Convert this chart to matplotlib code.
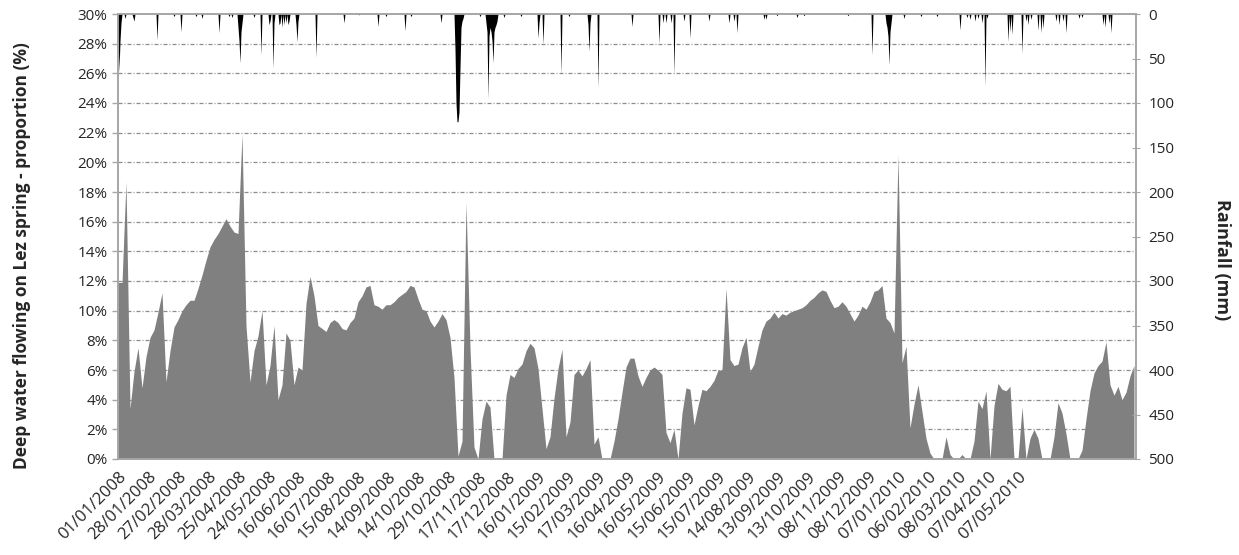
import numpy as np
import matplotlib
matplotlib.use("Agg")
import matplotlib.pyplot as plt

# category axis: one category per day in the workbook, a date label every 30 categories
date_labels = [
    "01/01/2008", "28/01/2008", "27/02/2008", "28/03/2008", "25/04/2008", "24/05/2008",
    "16/06/2008", "16/07/2008", "15/08/2008", "14/09/2008", "14/10/2008", "29/10/2008",
    "17/11/2008", "17/12/2008", "16/01/2009", "15/02/2009", "17/03/2009", "16/04/2009",
    "16/05/2009", "15/06/2009", "15/07/2009", "14/08/2009", "13/09/2009", "13/10/2009",
    "08/11/2009", "08/12/2009", "07/01/2010", "06/02/2010", "08/03/2010", "07/04/2010",
    "07/05/2010",
]
label_step = 30
n_categories = 1018
sample_step = 4  # the proportion is read every 4 categories

# deep water proportion (%), one reading every sample_step categories
deep_water_pct = [
    11.9, 11.9, 18.7, 3.4, 5.9, 7.5, 4.8, 6.9, 8.2, 8.7,
    9.9, 11.2, 5.2, 7.3, 8.9, 9.4, 10.0, 10.4, 10.7, 10.7,
    11.5, 12.4, 13.4, 14.3, 14.8, 15.2, 15.7, 16.2, 15.7, 15.3,
    15.2, 21.9, 9.0, 5.2, 7.3, 8.3, 10.0, 5.0, 6.3, 9.0,
    4.0, 5.0, 8.5, 8.0, 5.0, 6.2, 6.0, 10.5, 12.3, 11.0,
    9.0, 8.8, 8.6, 9.2, 9.4, 9.2, 8.8, 8.7, 9.2, 9.5,
    10.6, 11.0, 11.6, 11.7, 10.4, 10.3, 10.1, 10.4, 10.4, 10.6,
    10.9, 11.1, 11.3, 11.7, 11.6, 10.8, 10.1, 10.0, 9.3, 8.9,
    9.3, 9.8, 9.4, 8.2, 5.5, 0.2, 1.2, 17.3, 7.5, 0.8,
    0.0, 2.7, 3.9, 3.5, 0.0, 0.0, 0.0, 4.3, 5.7, 5.5,
    6.1, 6.4, 7.3, 7.8, 7.5, 6.1, 3.4, 0.7, 1.5, 4.1,
    6.1, 7.4, 1.5, 2.5, 5.7, 6.0, 5.6, 6.1, 6.7, 1.0,
    1.5, 0.0, 0.0, 0.0, 1.2, 2.7, 4.5, 6.2, 6.8, 6.8,
    5.6, 4.9, 5.5, 6.0, 6.2, 6.0, 5.7, 1.8, 1.1, 2.0,
    0.0, 3.1, 4.8, 4.7, 2.3, 3.6, 4.7, 4.6, 4.9, 5.3,
    6.0, 6.0, 11.5, 6.7, 6.3, 6.4, 7.5, 8.2, 5.9, 6.4,
    7.6, 8.7, 9.3, 9.5, 9.9, 9.5, 9.8, 9.7, 9.9, 10.0,
    10.1, 10.2, 10.4, 10.7, 10.9, 11.2, 11.4, 11.3, 10.7, 10.2,
    10.3, 10.6, 10.3, 9.8, 9.3, 9.7, 10.3, 10.1, 10.6, 11.3,
    11.4, 11.7, 9.5, 9.2, 8.5, 20.5, 6.5, 7.6, 2.1, 3.7,
    5.0, 3.2, 1.4, 0.4, 0.0, 0.0, 0.0, 1.5, 0.3, 0.0,
    0.0, 0.3, 0.0, 0.0, 1.2, 3.9, 3.4, 4.6, 0.0, 3.6,
    5.1, 4.7, 4.6, 4.9, 0.0, 0.0, 3.5, 0.0, 1.4, 2.0,
    1.4, 0.0, 0.0, 0.0, 1.5, 3.8, 3.1, 1.7, 0.0, 0.0,
    0.0, 0.6, 2.7, 4.6, 5.8, 6.3, 6.6, 7.9, 5.0, 4.3,
    4.9, 4.0, 4.5, 5.6, 6.3,
]

# daily rainfall (mm) on the rainy categories, zero elsewhere
rain_day = [
    0, 1, 2, 3, 7, 15, 16, 39, 56, 63, 78, 84, 101, 111, 114,
    120, 121, 122, 123, 124, 136, 143, 151, 152, 155, 156, 161, 162, 164, 166,
    168, 170, 171, 178, 179, 180, 198, 226, 241, 260, 268, 287, 293, 323,
    337, 338, 339, 340, 341, 342, 343, 344, 345, 362,
    368, 369, 370, 371, 372, 373, 374, 375, 376, 377, 378, 379,
    386, 403, 420, 421, 425, 443, 451, 470, 471, 472, 480,
    514, 541, 545, 548, 553, 556, 566, 572, 591, 611, 616, 619, 646, 648, 659,
    679, 686, 730, 754, 768, 769, 770, 771, 772, 773, 786, 803, 819, 842,
    849, 852, 857, 860, 864, 867, 869, 890, 892, 894, 904, 908, 910, 913, 920, 923, 925,
    938, 941, 945, 948, 961, 964, 985, 987, 991, 993,
]
rain_mm = [
    20, 65, 30, 10, 5, 4, 8, 29, 3, 20, 3, 5, 21, 3, 4,
    15, 30, 55, 20, 10, 4, 46, 12, 8, 61, 10, 12, 10, 15, 12,
    10, 12, 8, 12, 31, 8, 49, 10, 1, 14, 3, 19, 3, 10,
    40, 100, 121, 121, 110, 60, 15, 8, 5, 3,
    10, 20, 95, 25, 15, 20, 30, 55, 20, 15, 12, 8,
    4, 3, 27, 10, 34, 68, 3, 12, 42, 10, 83,
    14, 33, 10, 10, 10, 68, 8, 27, 8, 10, 8, 21, 6, 6, 2,
    4, 2, 2, 46, 10, 15, 25, 57, 20, 10, 5, 3, 3, 18,
    4, 6, 8, 5, 10, 81, 5, 31, 20, 23, 44, 8, 12, 6, 18, 21, 16,
    8, 12, 8, 21, 5, 4, 12, 15, 10, 21,
]


def main() -> None:
    plt.rcParams["font.family"] = ["Open Sans", "DejaVu Sans"]
    axis_grey = "#a6a6a6"
    text_color = "#262626"

    x_deep = np.arange(len(deep_water_pct)) * sample_step
    rain = np.zeros(n_categories)
    rain[rain_day] = rain_mm
    x_rain = np.arange(n_categories)

    fig = plt.figure(figsize=(12.39, 5.55), dpi=100)
    ax = fig.add_axes([118 / 1239, 1 - 459 / 555, 1018 / 1239, 445 / 555])
    ax.fill_between(x_deep, deep_water_pct, color="#808080", lw=0, zorder=2)

    ax.set_xlim(0, n_categories)
    ax.set_ylim(0, 30)
    ax.set_yticks(np.arange(0, 31, 2), [f"{v}%" for v in range(0, 31, 2)])
    ax.set_xticks(np.arange(len(date_labels)) * label_step, date_labels)
    for tick in ax.get_xticklabels():
        tick.set(rotation=45, ha="right", va="top", rotation_mode="anchor")
    ax.tick_params(axis="x", length=0, pad=7, labelsize=12, labelcolor=text_color)
    ax.tick_params(axis="y", length=4.5, color=axis_grey, width=1, labelsize=11, labelcolor=text_color, pad=3)
    for gy in range(2, 30, 2):
        ax.axhline(gy, color="#8c8c8c", lw=0.9, ls=(0, (3.2, 1.6, 0.8, 1.6)), zorder=1)
    for side in ["left", "right", "bottom", "top"]:
        ax.spines[side].set_color(axis_grey)
        ax.spines[side].set_linewidth(1.2)

    ax2 = ax.twinx()
    ax2.fill_between(x_rain, rain, color="black", lw=0)
    ax2.set_ylim(500, 0)
    ax2.set_yticks(np.arange(0, 501, 50))
    ax2.tick_params(axis="y", direction="inout", length=6, color=axis_grey, labelsize=11, labelcolor=text_color, pad=6)
    for side in ["left", "right", "bottom", "top"]:
        ax2.spines[side].set_color(axis_grey)
        ax2.spines[side].set_linewidth(1.2)

    fig.text(22 / 1239, 1 - 256 / 555, "Deep water flowing on Lez spring - proportion (%)",
             rotation=90, ha="center", va="center", fontsize=12.5, fontweight="bold", color=text_color)
    fig.text(1222 / 1239, 1 - 260 / 555, "Rainfall (mm)",
             rotation=270, ha="center", va="center", fontsize=13, fontweight="bold", color=text_color)

    fig.savefig("out.png", dpi=100)
    plt.close(fig)


if __name__ == "__main__":
    main()
